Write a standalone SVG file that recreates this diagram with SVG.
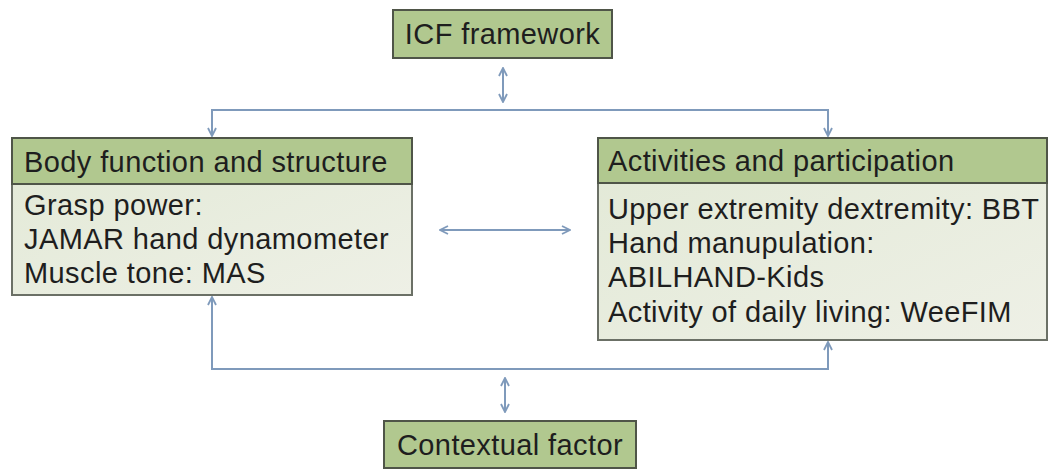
<svg xmlns="http://www.w3.org/2000/svg" width="1049" height="472" viewBox="0 0 1049 472">
<defs>
<linearGradient id="bodyGrad" x1="0" y1="0" x2="1" y2="1">
<stop offset="0" stop-color="#e2e9d6"/>
<stop offset="1" stop-color="#eef0e6"/>
</linearGradient>
<marker id="arr" viewBox="0 0 10 10" refX="9" refY="5" markerWidth="10" markerHeight="10" markerUnits="userSpaceOnUse" orient="auto-start-reverse">
<polyline points="1,1 9,5 1,9" fill="none" stroke="#7f9abb" stroke-width="1.8"/>
</marker>
</defs>
<style>
.hdr{fill:#b1c88f;stroke:#4f5548;stroke-width:2}
.body{fill:url(#bodyGrad);stroke:#6b7066;stroke-width:2}
.t{font-family:"Liberation Sans",Arial,sans-serif;font-size:29px;letter-spacing:0.4px;fill:#1e1e1e}
.c{fill:none;stroke:#7f9abb;stroke-width:2}
</style>
<rect width="1049" height="472" fill="#ffffff"/>
<g id="icf">
<rect class="hdr" x="393" y="10" width="219" height="48"/>
<text class="t" x="502.5" y="44" text-anchor="middle">ICF framework</text>
</g>
<g id="body-function">
<rect class="body" x="12" y="138" width="400" height="157"/>
<rect class="hdr" x="12" y="138" width="400" height="46"/>
<text class="t" x="24" y="172">Body function and structure</text>
<text class="t" x="24" y="215">Grasp power:</text>
<text class="t" x="24" y="249">JAMAR hand dynamometer</text>
<text class="t" x="24" y="283">Muscle tone: MAS</text>
</g>
<g id="activities">
<rect class="body" x="598" y="138" width="449" height="202"/>
<rect class="hdr" x="598" y="138" width="449" height="45"/>
<text class="t" x="608" y="171">Activities and participation</text>
<text class="t" x="608" y="219">Upper extremity dextremity: BBT</text>
<text class="t" x="608" y="253">Hand manupulation:</text>
<text class="t" x="608" y="287">ABILHAND-Kids</text>
<text class="t" x="608" y="322">Activity of daily living: WeeFIM</text>
</g>
<g id="contextual">
<rect class="hdr" x="384" y="421" width="252" height="47"/>
<text class="t" x="510" y="455" text-anchor="middle">Contextual factor</text>
</g>
<g id="connectors">
<line class="c" x1="503" y1="68" x2="503" y2="102" marker-start="url(#arr)" marker-end="url(#arr)"/>
<polyline class="c" points="212,136 212,110 828,110 828,136" marker-start="url(#arr)" marker-end="url(#arr)"/>
<line class="c" x1="440" y1="230" x2="570" y2="230" marker-start="url(#arr)" marker-end="url(#arr)"/>
<polyline class="c" points="212,297 212,369 828,369 828,342" marker-start="url(#arr)" marker-end="url(#arr)"/>
<line class="c" x1="505" y1="378" x2="505" y2="412" marker-start="url(#arr)" marker-end="url(#arr)"/>
</g>
</svg>
